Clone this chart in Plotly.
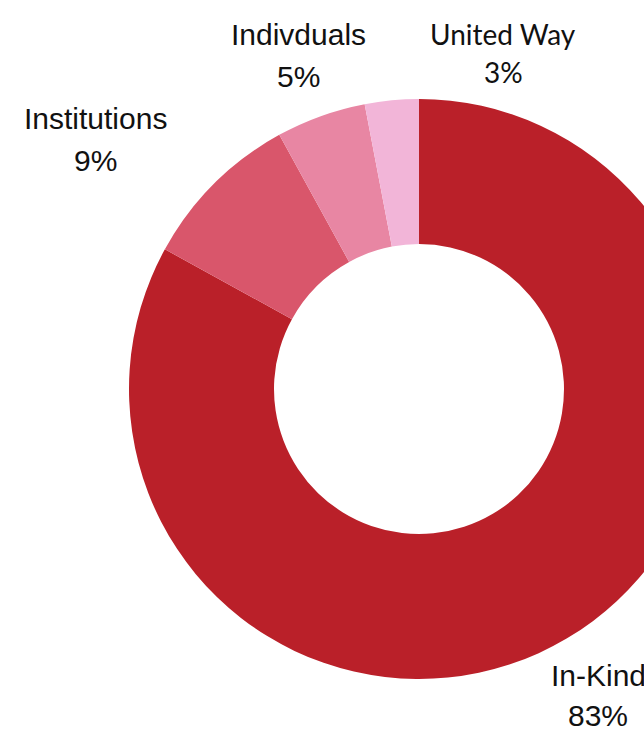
import plotly.graph_objects as go

# ---- data ----
labels = ["In-Kind", "Institutions", "Indivduals", "United Way"]
values = [83, 9, 5, 3]
colors = ["#BA2029", "#D9566B", "#E886A3", "#F2B5D8"]

# ---- layout constants ----
W, H = 840, 730
cx, cy, r = 419, 389, 290

# label placement (pixel centers of the name line and the percent line) and fonts
label_pos = {
    "In-Kind": (598, 675, 598, 715),
    "Institutions": (95, 118, 95, 160),
    "Indivduals": (298, 35, 298, 77),
    "United Way": (503, 34, 503, 72),
}
label_font = {
    "In-Kind": ("Liberation Sans", 30),
    "Institutions": ("Liberation Sans", 30),
    "Indivduals": ("Liberation Sans", 30),
    "United Way": ("Lato", 28),
}

fig = go.Figure(
    go.Pie(
        labels=labels,
        values=values,
        marker=dict(colors=colors, line=dict(width=0)),
        hole=0.5,
        sort=False,
        direction="clockwise",
        rotation=0,
        textinfo="none",
        showlegend=False,
        domain=dict(x=[(cx - r) / W, (cx + r) / W], y=[1 - (cy + r) / H, 1 - (cy - r) / H]),
    )
)

total = sum(values)
annotations = []
for lab, val in zip(labels, values):
    x1, y1, x2, y2 = label_pos[lab]
    fam, size = label_font[lab]
    for txt, x, y in ((lab, x1, y1), (f"{round(val / total * 100)}%", x2, y2)):
        annotations.append(
            dict(
                text=txt,
                x=x / W,
                y=1 - y / H,
                xref="paper",
                yref="paper",
                xanchor="center",
                yanchor="middle",
                showarrow=False,
                font=dict(family=fam, size=size, color="#111111"),
            )
        )

fig.update_layout(
    width=W,
    height=H,
    autosize=False,
    margin=dict(l=0, r=0, t=0, b=0),
    paper_bgcolor="white",
    plot_bgcolor="white",
    annotations=annotations,
)

fig.write_html(
    "out.html",
    post_script="document.body.style.margin='0';document.body.style.overflow='hidden';document.documentElement.style.overflow='hidden';",
)
